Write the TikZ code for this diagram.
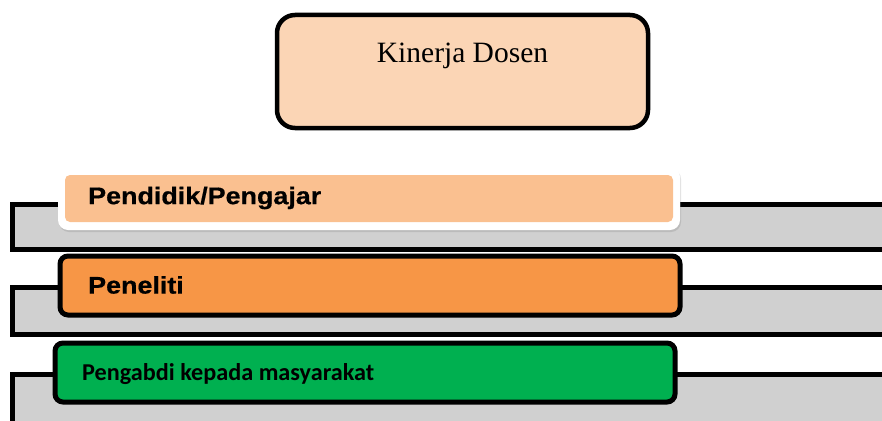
\documentclass[tikz,border=0pt]{standalone}
\usepackage{fontspec}
\setmainfont{Liberation Serif}
\newfontfamily\arialfont{Liberation Sans}[FakeStretch=1.12,FakeBold=0.6]
\newfontfamily\calfont{Carlito}
\usetikzlibrary{shadows}
\definecolor{topfill}{HTML}{FBD5B5}
\definecolor{lightor}{HTML}{FAC090}
\definecolor{orangefill}{HTML}{F79646}
\definecolor{greenfill}{HTML}{00B050}
\definecolor{barfill}{HTML}{D0D0D0}
\tikzset{
  px/.style={x=1pt,y=-1pt},
  bar/.style={fill=barfill,draw=black,line width=5pt},
  labelbox/.style={draw=black,line width=5pt,rounded corners=8pt},
  labeltext/.style={anchor=west,inner sep=0pt,font=\arialfont\bfseries\fontsize{24}{28}\selectfont},
}
\begin{document}
\begin{tikzpicture}[px]
\useasboundingbox (0,0) rectangle (882,420);
\begin{scope}
\clip (0,0) rectangle (882,420);
% gray bars
\path[bar] (890,204) -- (12,204) -- (12,249) -- (890,249);
\path[bar] (890,287) -- (12,287) -- (12,334) -- (890,334);
\path[bar] (890,374) -- (12,374) -- (12,430) -- (890,430);
\end{scope}
% top box
\node[draw=black,line width=4.5pt,rounded corners=18pt,fill=topfill,minimum width=371pt,minimum height=113pt,inner sep=0pt] (top) at (462.5,71.5) {};
\node[font=\fontsize{29.5}{34}\selectfont,anchor=base,inner sep=0pt] (toptext) at (462.5,63) {Kinerja Dosen};
% row 1
\node[fill=white,rounded corners=10pt,minimum width=622pt,minimum height=63pt,inner sep=0pt,
      drop shadow={opacity=0.25,shadow xshift=1pt,shadow yshift=-2pt}] (r1out) at (369,198.5) {};
\node[fill=lightor,rounded corners=5pt,minimum width=608pt,minimum height=47pt,inner sep=0pt] (r1) at (369,198.5) {};
\node[labeltext] (t1) at (88,198) {Pendidik/Pengajar};
% row 2
\node[labelbox,fill=orangefill,minimum width=620pt,minimum height=59pt,inner sep=0pt] (r2) at (370,285.5) {};
\node[labeltext] (t2) at (88,285) {Peneliti};
% row 3
\node[labelbox,fill=greenfill,minimum width=620pt,minimum height=59pt,inner sep=0pt] (r3) at (365,372.5) {};
\node[anchor=west,inner sep=0pt,font=\calfont\bfseries\fontsize{24.2}{28}\selectfont] (t3) at (82,374) {Pengabdi kepada masyarakat};
\end{tikzpicture}
\end{document}
